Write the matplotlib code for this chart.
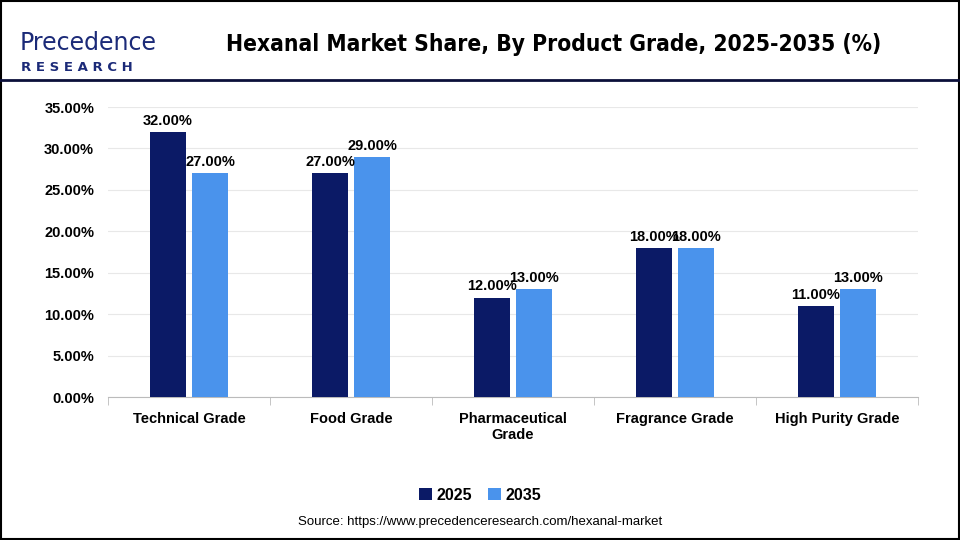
import numpy as np
import matplotlib.pyplot as plt
from matplotlib.patches import Rectangle
from matplotlib.lines import Line2D
from matplotlib import font_manager

categories = ["Technical Grade", "Food Grade", "Pharmaceutical\nGrade",
              "Fragrance Grade", "High Purity Grade"]
years = ["2025", "2035"]
share_2025 = [32.0, 27.0, 12.0, 18.0, 11.0]
share_2035 = [27.0, 29.0, 13.0, 18.0, 13.0]
yticks = [0, 5, 10, 15, 20, 25, 30, 35]

c25 = "#0b1a66"
c35 = "#4a93ec"

# pick a condensed face for the title if one is installed
names = {f.name for f in font_manager.fontManager.ttflist}
title_family = "DejaVu Sans"
for cand in ["Liberation Sans Narrow", "DejaVu Sans Condensed"]:
    if cand in names:
        title_family = cand
        break

fig = plt.figure(figsize=(9.6, 5.4), dpi=100)

# outer border and header line
fig.patches.append(Rectangle((0.001, 0.001), 0.998, 0.998, transform=fig.transFigure,
                             fill=False, edgecolor="black", linewidth=1.5))
fig.lines.append(Line2D([0, 1], [0.852, 0.852], transform=fig.transFigure,
                        color="#0b0f3a", linewidth=2))

# logo as text
fig.text(0.020, 0.920, "Precedence", fontsize=17, color="#1b2a78",
         family="DejaVu Sans", va="center", ha="left")
fig.text(0.022, 0.875, "R E S E A R C H", fontsize=9.5, color="#1b2a78",
         family="DejaVu Sans", va="center", ha="left", fontweight="bold")

fig.text(0.577, 0.918, "Hexanal Market Share, By Product Grade, 2025-2035 (%)",
         fontsize=16.3, fontweight="bold", ha="center", va="center",
         family=title_family, fontstretch="condensed")

ax = fig.add_axes([0.1125, 0.2648, 0.84375, 0.537])
x = np.arange(len(categories))
w = 0.222
off = 0.13
b1 = ax.bar(x - off, share_2025, w, color=c25, label=years[0], zorder=3)
b2 = ax.bar(x + off, share_2035, w, color=c35, label=years[1], zorder=3)

for bars, vals in ((b1, share_2025), (b2, share_2035)):
    for r, v in zip(bars, vals):
        ax.text(r.get_x() + r.get_width() / 2, v + 0.5, "{:.2f}%".format(v),
                ha="center", va="bottom", fontsize=10.5, fontweight="bold",
                family="Liberation Sans")

ax.set_xlim(-0.5, len(categories) - 0.5)
ax.set_ylim(0, 35)
ax.set_yticks(yticks)
ax.set_yticklabels(["{:.2f}%".format(t) for t in yticks])
ax.set_xticks(x)
ax.set_xticklabels(categories)
ax.set_xticks(np.arange(-0.5, len(categories)), minor=True)
ax.tick_params(axis="x", which="major", length=0, pad=11)
ax.tick_params(axis="x", which="minor", length=6, color="#bbbbbb")
ax.tick_params(axis="y", length=0, pad=10)
for lab in ax.get_xticklabels() + ax.get_yticklabels():
    lab.set_fontweight("bold")
    lab.set_fontsize(10.5)
    lab.set_family("Liberation Sans")

ax.grid(axis="y", color="#e8e8e8", linewidth=0.8, zorder=0)
for s in ["top", "right", "left"]:
    ax.spines[s].set_visible(False)
ax.spines["bottom"].set_color("#bbbbbb")

leg = fig.legend(loc="center", bbox_to_anchor=(0.5, 0.083), ncol=2, frameon=False,
                 handlelength=0.8, handleheight=0.8, handletextpad=0.3,
                 columnspacing=1.0, prop={"family": "Liberation Sans",
                                          "weight": "bold", "size": 11.5})

fig.text(0.5, 0.034, "Source: https://www.precedenceresearch.com/hexanal-market",
         ha="center", va="center", fontsize=9.5, family="Liberation Sans")

fig.savefig("out.png", dpi=100)
